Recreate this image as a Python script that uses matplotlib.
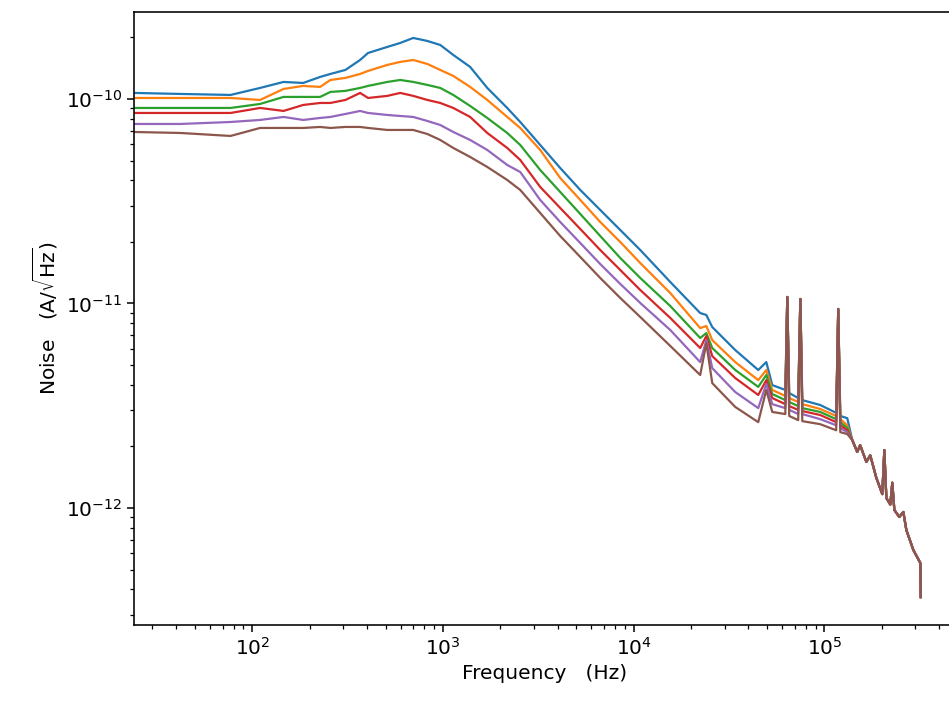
# -*- coding: utf-8 -*-
"""Noise spectral density vs frequency, six bias settings."""

import matplotlib
matplotlib.use("Agg")
import matplotlib.pyplot as plt
import matplotlib.ticker as mticker
import numpy as np

NOISE_UNIT = 1e-10  # values below are in units of 1e-10 A/sqrt(Hz)

# frequency grid (Hz)
freq_hz = [
    24, 42, 77, 110, 146, 185, 227, 257, 308, 368, 405, 511, 597, 699, 828,
    968, 1133, 1389, 1708, 2173, 2543, 3236, 4120, 5250, 6680, 8510, 10830,
    15560, 22330, 24040, 25830, 34100, 45000, 49600, 53300, 62400, 63900,
    65400, 72900, 74800, 76600, 95100, 115300, 118200, 121200, 131800,
]
# shared high-frequency tail where all curves overlap
tail_freq_hz = [
    140000, 148700, 154000, 166000, 174000, 187000, 201200, 206200, 211300,
    221600, 227000, 232700, 247000, 259400, 269000, 292600, 318400, 320000,
]
tail_noise = [
    0.0215, 0.0188, 0.0203, 0.0168, 0.0181, 0.0141, 0.0117, 0.0192, 0.0112,
    0.0104, 0.0133, 0.00979, 0.00904, 0.00957, 0.00781, 0.00624, 0.00539,
    0.00367,
]

noise_1 = [
    1.070, 1.058, 1.046, 1.132, 1.211, 1.197, 1.281, 1.325, 1.386, 1.551,
    1.678, 1.796, 1.878, 1.987, 1.921, 1.836, 1.641, 1.434, 1.132, 0.9036,
    0.7716, 0.5956, 0.4597, 0.3589, 0.2866, 0.2287, 0.1826, 0.1274, 0.0898,
    0.0879, 0.0767, 0.0592, 0.0473, 0.0517, 0.0399, 0.0378, 0.1076, 0.0365,
    0.0345, 0.1052, 0.0337, 0.0319, 0.0292, 0.0940, 0.0282, 0.0275,
]
noise_2 = [
    1.011, 1.011, 1.011, 0.9888, 1.119, 1.158, 1.145, 1.238, 1.267, 1.325,
    1.371, 1.467, 1.517, 1.551, 1.483, 1.386, 1.296, 1.145, 0.9888, 0.8165,
    0.7214, 0.5631, 0.4108, 0.3207, 0.2503, 0.1998, 0.1577, 0.1125, 0.0758,
    0.0776, 0.0662, 0.0517, 0.0422, 0.0473, 0.0378, 0.0353, 0.1076, 0.0345,
    0.0330, 0.1052, 0.0322, 0.0305, 0.0282, 0.0940, 0.0272, 0.0254,
]
noise_3 = [
    0.9036, 0.9036, 0.9036, 0.9451, 1.023, 1.023, 1.023, 1.082, 1.095, 1.132,
    1.158, 1.211, 1.238, 1.211, 1.171, 1.132, 1.046, 0.9240, 0.8073, 0.6818,
    0.5956, 0.4495, 0.3509, 0.2739, 0.2138, 0.1669, 0.1333, 0.0972, 0.0678,
    0.0717, 0.0606, 0.0473, 0.0391, 0.0447, 0.0361, 0.0337, 0.1076, 0.0330,
    0.0315, 0.1052, 0.0308, 0.0295, 0.0272, 0.0940, 0.0263, 0.0246,
]
noise_4 = [
    0.8540, 0.8540, 0.8540, 0.9036, 0.8736, 0.9345, 0.9558, 0.9558, 0.9888,
    1.070, 1.011, 1.035, 1.070, 1.035, 0.9888, 0.9558, 0.9036, 0.8165,
    0.6818, 0.5760, 0.5031, 0.3713, 0.2931, 0.2313, 0.1826, 0.1458, 0.1164,
    0.0850, 0.0606, 0.0693, 0.0553, 0.0432, 0.0357, 0.0422, 0.0345, 0.0322,
    0.1076, 0.0315, 0.0302, 0.1052, 0.0298, 0.0285, 0.0263, 0.0940, 0.0254,
    0.0240,
]
noise_5 = [
    0.7545, 0.7545, 0.7716, 0.7894, 0.8165, 0.7894, 0.8073, 0.8165, 0.8444,
    0.8736, 0.8540, 0.8350, 0.8256, 0.8165, 0.7805, 0.7460, 0.6895, 0.6302,
    0.5631, 0.4756, 0.4394, 0.3207, 0.2503, 0.1976, 0.1559, 0.1246, 0.1006,
    0.0742, 0.0517, 0.0662, 0.0483, 0.0369, 0.0308, 0.0404, 0.0322, 0.0308,
    0.1076, 0.0302, 0.0288, 0.1052, 0.0288, 0.0272, 0.0254, 0.0940, 0.0246,
    0.0235,
]
noise_6 = [
    0.6895, 0.6818, 0.6593, 0.7214, 0.7214, 0.7214, 0.7296, 0.7214, 0.7296,
    0.7296, 0.7214, 0.7053, 0.7053, 0.7053, 0.6741, 0.6302, 0.5760, 0.5204,
    0.4650, 0.4017, 0.3589, 0.2770, 0.2138, 0.1688, 0.1333, 0.1064, 0.0859,
    0.0620, 0.0447, 0.0640, 0.0408, 0.0312, 0.0263, 0.0378, 0.0295, 0.0288,
    0.1076, 0.0282, 0.0269, 0.1052, 0.0266, 0.0257, 0.0240, 0.0940, 0.0235,
    0.0230,
]

y_ticks = [1e-12, 1e-11, 1e-10]

FS = 14.5

fig = plt.figure(figsize=(9.49, 7.08), dpi=100)
ax = fig.add_axes([0.1412, 0.1172, 0.8662, 0.8658])

f_all = np.concatenate([freq_hz, tail_freq_hz])
for i, curve in enumerate([noise_1, noise_2, noise_3, noise_4, noise_5, noise_6]):
    y = np.concatenate([curve, tail_noise]) * NOISE_UNIT
    ax.plot(f_all, y, color=f"C{i}", lw=1.6)

ax.set_xscale("log")
ax.set_yscale("log")
ax.set_xlim(24.0, 4.9e5)
ax.set_ylim(2.68e-13, 2.66e-10)
ax.set_yticks(y_ticks)
ax.xaxis.set_minor_formatter(mticker.NullFormatter())
ax.yaxis.set_minor_formatter(mticker.NullFormatter())

ax.set_xlabel("Frequency   (Hz)", fontsize=FS)
ax.set_ylabel(r"Noise   (A/$\sqrt{\rm Hz}$)", fontsize=FS)
ax.tick_params(which="major", labelsize=FS, length=5, width=1.1)
ax.tick_params(which="minor", length=3, width=0.9)
for sp in ax.spines.values():
    sp.set_linewidth(1.15)
# the reference is cropped before the right frame line
ax.spines["right"].set_visible(False)

fig.savefig("out.png", dpi=100)
